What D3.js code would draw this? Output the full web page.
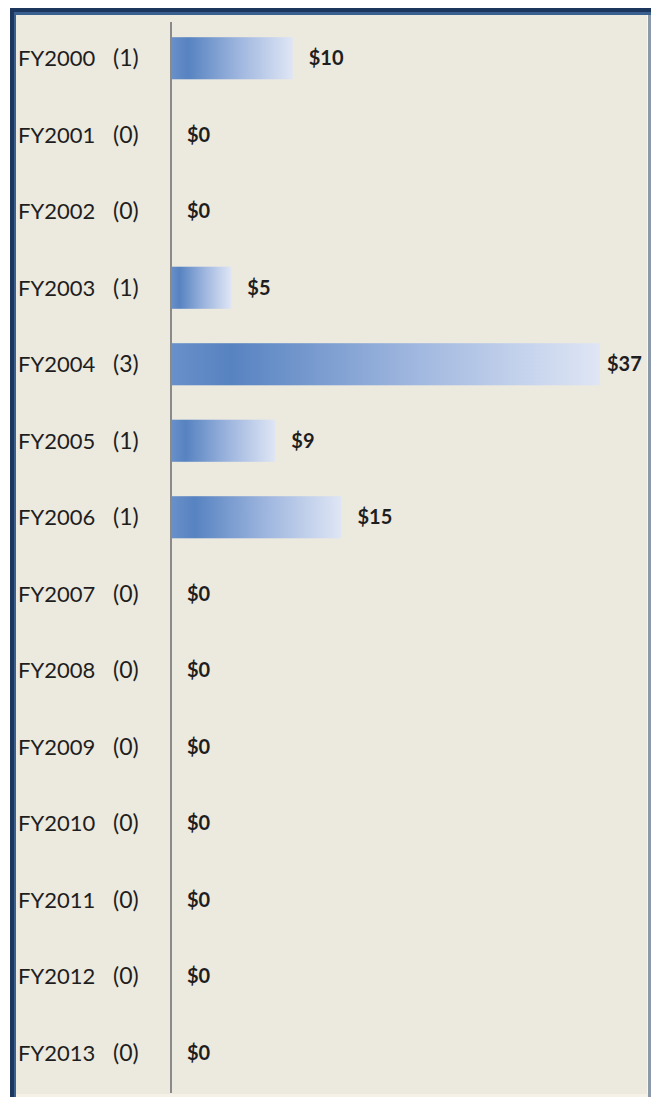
<!DOCTYPE html>
<html>
<head>
<meta charset="utf-8">
<script src="https://cdn.jsdelivr.net/npm/d3@7"></script>
<style>
  html, body { margin: 0; padding: 0; background: #ffffff; }
  svg { display: block; }
</style>
</head>
<body>
<svg id="chart" width="651" height="1097"></svg>
<script>
// ---- data ----
const years = ["FY2000","FY2001","FY2002","FY2003","FY2004","FY2005","FY2006",
               "FY2007","FY2008","FY2009","FY2010","FY2011","FY2012","FY2013"];
const counts = [1,0,0,1,3,1,1,0,0,0,0,0,0,0];
const amounts = [10.5,0,0,5.2,37,9,14.7,0,0,0,0,0,0,0];
const amountLabels = ["$10","$0","$0","$5","$37","$9","$15","$0","$0","$0","$0","$0","$0","$0"];

const W = 651, H = 1097;
const svg = d3.select("#chart");

// frame
svg.append("rect").attr("x",0).attr("y",0).attr("width",W).attr("height",H).attr("fill","#ffffff");
svg.append("rect").attr("x",10).attr("y",8).attr("width",W-10).attr("height",H-8).attr("fill","#1c365e");
svg.append("rect").attr("x",14).attr("y",12).attr("width",W-14).attr("height",H-12).attr("fill","#3a6090");
svg.append("rect").attr("x",16).attr("y",15).attr("width",W-16).attr("height",H-15).attr("fill","#ece9df");
svg.append("rect").attr("x",647).attr("y",15).attr("width",1).attr("height",H-15).attr("fill","#f7f6f1");
svg.append("rect").attr("x",648).attr("y",15).attr("width",3).attr("height",H-15).attr("fill","#8c99ab");
svg.append("rect").attr("x",16).attr("y",1094).attr("width",632).attr("height",3).attr("fill","#f6f1e6");

// scales
const y = d3.scaleBand().domain(years).range([20, 1091]).paddingInner(0.45).paddingOuter(0.225);
const x = d3.scaleLinear().domain([0, 37]).range([171, 600]);

// gradient
const defs = svg.append("defs");
const grad = defs.append("linearGradient").attr("id","barGrad")
  .attr("x1","0%").attr("x2","100%").attr("y1","0%").attr("y2","0%");
grad.append("stop").attr("offset","0%").attr("stop-color","#6990c9");
grad.append("stop").attr("offset","14%").attr("stop-color","#5783c1");
grad.append("stop").attr("offset","55%").attr("stop-color","#9db5de");
grad.append("stop").attr("offset","100%").attr("stop-color","#dfe6f5");

// bars
svg.append("g").selectAll("rect").data(years).join("rect")
  .attr("x", x(0))
  .attr("y", d => y(d))
  .attr("width", (d,i) => x(amounts[i]) - x(0))
  .attr("height", y.bandwidth())
  .attr("fill", "url(#barGrad)");

// axis line (category axis)
const axis = d3.axisLeft(y).tickSize(0).tickFormat("");
const ag = svg.append("g").attr("transform", `translate(${x(0)},0)`).call(axis);
ag.select(".domain").attr("d", "M0,22V1093").attr("stroke","#8a8a8a").attr("stroke-width",2);

// category labels
const fontFam = "Lato, 'Open Sans', sans-serif";
const lab = svg.append("g").attr("font-family", fontFam).attr("font-size", 22).attr("fill", "#1e1e1e");
lab.selectAll("text.yr").data(years).join("text").attr("class","yr")
  .attr("x", 18).attr("y", d => y(d) + y.bandwidth()/2 + 8)
  .text(d => d);
lab.selectAll("text.ct").data(years).join("text").attr("class","ct")
  .attr("x", 113).attr("y", d => y(d) + y.bandwidth()/2 + 8)
  .attr("font-size", 23)
  .text((d,i) => "(" + counts[i] + ")");

// value labels
const vl = svg.append("g").attr("font-family", fontFam).attr("font-size", 20)
  .attr("font-weight", "bold").attr("fill", "#1e1e1e");
vl.selectAll("text").data(years).join("text")
  .attr("x", (d,i) => Math.min(x(amounts[i]) + 16, 607))
  .attr("y", d => y(d) + y.bandwidth()/2 + 7)
  .text((d,i) => amountLabels[i]);
</script>
</body>
</html>
